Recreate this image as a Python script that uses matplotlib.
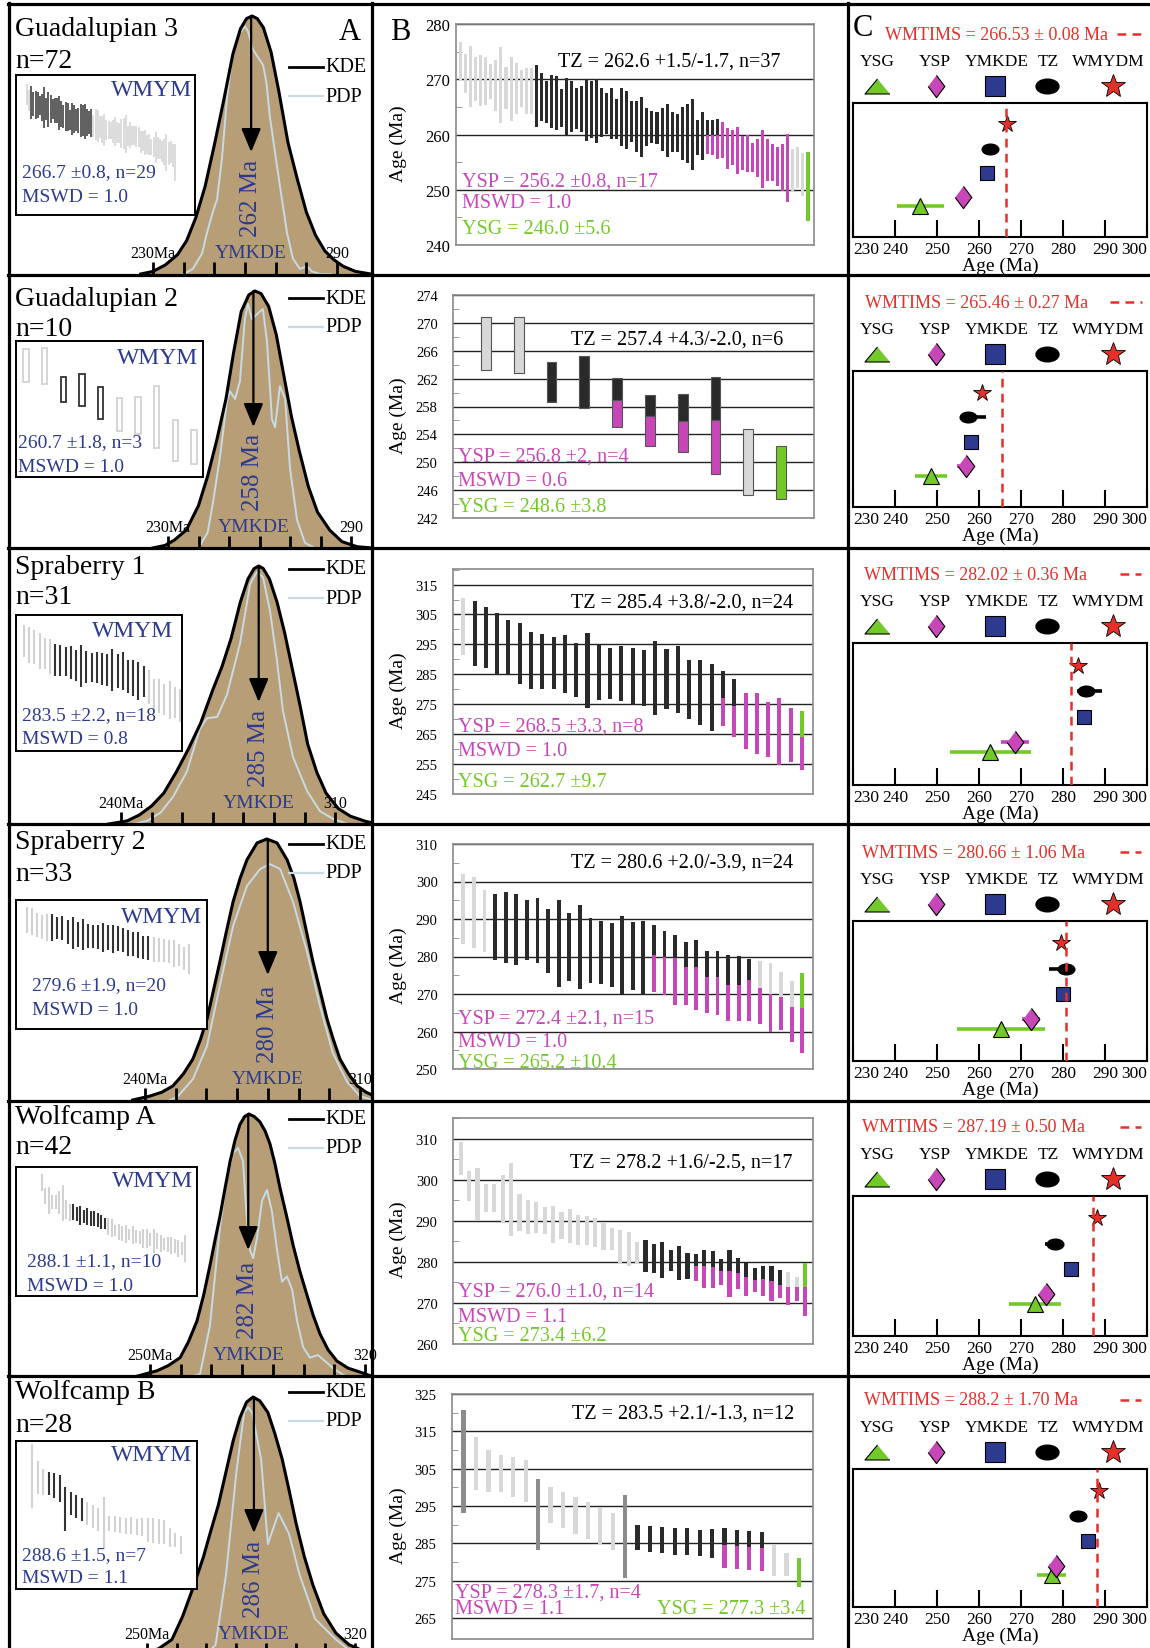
import matplotlib.pyplot as plt
import numpy as np
from matplotlib.lines import Line2D
from matplotlib.path import Path
from matplotlib.transforms import Affine2D

plt.rcParams['font.family'] = ['Liberation Serif', 'DejaVu Serif']

W, H = 1150, 1649

TAN = '#b79e76'
PDPC = '#c8dbe4'
NAVY = '#2d3a8e'
MAG = '#c847b8'
GRN = '#74c92a'
RED = '#e5302a'
LG = '#d8d8d8'
DG = '#8c8c8c'
BK = '#2a2a2a'

# ---------------- sample summary values ----------------
names = ['Guadalupian 3', 'Guadalupian 2', 'Spraberry 1', 'Spraberry 2', 'Wolfcamp A', 'Wolfcamp B']
counts = [72, 10, 31, 33, 42, 28]
ymkde = [262, 258, 285, 280, 282, 286]
wmym = [266.7, 260.7, 283.5, 279.6, 288.1, 288.6]
wmym_err = [0.8, 1.8, 2.2, 1.9, 1.1, 1.5]
wmym_n = [29, 3, 18, 20, 10, 7]
wmym_mswd = [1.0, 1.0, 0.8, 1.0, 1.0, 1.1]
tz = [262.6, 257.4, 285.4, 280.6, 278.2, 283.5]
tz_plus = [1.5, 4.3, 3.8, 2.0, 1.6, 2.1]
tz_minus = [1.7, 2.0, 2.0, 3.9, 2.5, 1.3]
tz_n = [37, 6, 24, 24, 17, 12]
ysp = [256.2, 256.8, 268.5, 272.4, 276.0, 278.3]
ysp_err = [0.8, 2, 3.3, 2.1, 1.0, 1.7]
ysp_n = [17, 4, 8, 15, 14, 4]
ysp_mswd = [1.0, 0.6, 1.0, 1.0, 1.1, 1.1]
ysg = [246.0, 248.6, 262.7, 265.2, 273.4, 277.3]
ysg_err = [5.6, 3.8, 9.7, 10.4, 6.2, 3.4]
wmtims = [266.53, 265.46, 282.02, 280.66, 287.19, 288.2]
wmtims_err = [0.08, 0.27, 0.36, 1.06, 0.50, 1.70]

# ---------------- A: KDE and PDP curves (age Ma, relative height) ----------------
kde_age_1 = [226, 230, 234, 238, 241, 244, 247, 250, 253, 256, 258.5, 260.5, 262.3, 264, 266, 268.5,
             271, 274, 277, 280, 283, 286, 289, 292, 296, 301]
kde_den_1 = [0, 0.01, 0.035, 0.075, 0.13, 0.22, 0.34, 0.50, 0.67, 0.85, 0.95, 0.99, 1.0, 0.99, 0.955,
             0.86, 0.71, 0.51, 0.37, 0.24, 0.15, 0.09, 0.055, 0.03, 0.01, 0]
pdp_age_1 = [240, 243, 246, 247.6, 249.5, 250.9, 252.5, 254.1, 256.1, 258, 260, 261, 262.6, 264.2,
             265.9, 267, 268.1, 269.8, 271.4, 273.7, 275.6, 277.9, 280.2, 281.8, 284.5, 288]
pdp_den_1 = [0, 0.02, 0.08, 0.16, 0.24, 0.29, 0.45, 0.68, 0.87, 0.93, 0.96, 0.94, 0.87, 0.84, 0.81,
             0.74, 0.61, 0.47, 0.34, 0.16, 0.06, 0.02, 0.03, 0.01, 0, 0]

kde_age_2 = [225, 229, 232, 236, 240, 243, 246, 249, 251.5, 254, 256.5, 258.5, 260.5, 263, 265.5,
             268, 270.5, 273, 276, 279, 283, 287, 292, 297]
kde_den_2 = [0, 0.01, 0.03, 0.07, 0.165, 0.28, 0.42, 0.58, 0.76, 0.92, 0.985, 1.0, 0.99, 0.94, 0.83,
             0.67, 0.51, 0.38, 0.24, 0.14, 0.07, 0.025, 0.005, 0]
pdp_age_2 = [240, 243, 244.8, 247.1, 249.3, 250.3, 252, 253.6, 255.2, 256.2, 257.5, 259.2, 261.1,
             262.4, 264.1, 265.1, 266.7, 268.4, 270, 272.3, 274.9, 278.2]
pdp_den_2 = [0, 0.06, 0.18, 0.36, 0.57, 0.61, 0.58, 0.65, 0.89, 0.95, 0.89, 0.91, 0.93, 0.81, 0.5,
             0.47, 0.63, 0.58, 0.31, 0.11, 0.02, 0]

kde_age_3 = [236, 242, 246, 250, 254, 258, 262, 266, 270, 273, 276, 279, 281.5, 283.5, 285, 286.5,
             288.5, 291, 293.5, 296, 298.5, 301, 304, 307, 311, 315, 320, 324]
kde_den_3 = [0, 0.012, 0.035, 0.07, 0.12, 0.2, 0.29, 0.39, 0.52, 0.61, 0.72, 0.86, 0.95, 0.99, 1.0,
             0.99, 0.95, 0.86, 0.74, 0.60, 0.46, 0.31, 0.2, 0.12, 0.06, 0.03, 0.01, 0]
pdp_age_3 = [244, 248.5, 253, 257, 261.6, 264, 265.8, 268.1, 271.4, 274.6, 278.9, 282.2, 284.4,
             286.4, 288.7, 291, 292.9, 296.2, 300.8, 305, 309.3, 314]
pdp_den_3 = [0, 0.012, 0.045, 0.105, 0.205, 0.3, 0.37, 0.41, 0.415, 0.5, 0.7, 0.93, 0.977, 0.957,
             0.826, 0.63, 0.44, 0.26, 0.128, 0.05, 0.02, 0]

kde_age_4 = [236, 241.6, 245.5, 249.1, 252.5, 255.6, 258, 260.2, 262.3, 264.4, 266.5, 268.7, 271,
             273.2, 276.5, 279.7, 283, 286.3, 288.5, 290.5, 292.6, 294.7, 297, 299.3, 301.4, 303.5,
             306.3, 309.1, 312, 315.6, 320]
kde_den_4 = [0, 0.015, 0.03, 0.054, 0.1, 0.157, 0.23, 0.31, 0.42, 0.53, 0.645, 0.76, 0.85, 0.92,
             0.985, 1.0, 0.985, 0.92, 0.85, 0.76, 0.645, 0.53, 0.42, 0.31, 0.23, 0.157, 0.1, 0.054,
             0.03, 0.01, 0]
pdp_age_4 = [248, 250.4, 255.6, 260.2, 264.4, 268.7, 273.2, 277.5, 280.7, 284, 288.2, 292.8, 297,
             301.2, 305.8, 310, 314]
pdp_den_4 = [0, 0.01, 0.08, 0.207, 0.44, 0.667, 0.82, 0.885, 0.904, 0.885, 0.76, 0.567, 0.36,
             0.18, 0.07, 0.015, 0]

kde_age_5 = [246, 252.3, 256, 259.8, 262.5, 265.3, 267.5, 269.5, 271.2, 272.8, 274.5, 276.1, 277.7,
             279.3, 280.8, 282.2, 284, 285.8, 287.5, 289.1, 290.7, 292.3, 294.5, 296.6, 298.8,
             301.1, 303.2, 305.4, 308, 310.9, 314.5, 318.4, 322]
kde_den_5 = [0, 0.02, 0.04, 0.07, 0.13, 0.21, 0.31, 0.42, 0.52, 0.61, 0.72, 0.82, 0.9, 0.96, 0.99,
             1.0, 0.99, 0.97, 0.935, 0.885, 0.81, 0.72, 0.61, 0.50, 0.40, 0.31, 0.23, 0.16, 0.1,
             0.057, 0.03, 0.015, 0]
pdp_age_5 = [264, 266.3, 269.5, 272.8, 275.1, 277, 278.7, 280.3, 281.6, 282.6, 283.6, 284.9, 286.5,
             288.1, 289.7, 291.4, 293, 294.6, 296.3, 297.9, 299.9, 302.1, 304.7, 307, 309.6, 313.5]
pdp_den_5 = [0, 0.008, 0.19, 0.57, 0.76, 0.85, 0.87, 0.82, 0.59, 0.48, 0.45, 0.53, 0.67, 0.71,
             0.63, 0.48, 0.36, 0.38, 0.33, 0.21, 0.11, 0.07, 0.08, 0.057, 0.03, 0]

kde_age_6 = [248, 254, 258.4, 262, 265.8, 269, 271.2, 274, 276.6, 279, 281.3, 283.5, 285.7, 288,
             290.7, 293, 295.5, 298, 300.2, 303, 305.9, 309.5, 313.6, 318, 324]
kde_den_6 = [0, 0.025, 0.06, 0.15, 0.27, 0.38, 0.47, 0.58, 0.71, 0.83, 0.92, 0.98, 1.0, 0.985,
             0.94, 0.86, 0.76, 0.63, 0.51, 0.38, 0.27, 0.16, 0.085, 0.04, 0.01]
pdp_age_6 = [270, 273.1, 276.6, 280.1, 282.7, 284, 285.4, 288.4, 290.7, 294.3, 297.8, 301.4, 306.6,
             313.6, 318]
pdp_den_6 = [0, 0.04, 0.31, 0.71, 0.94, 0.96, 0.94, 0.76, 0.43, 0.55, 0.47, 0.31, 0.14, 0.06, 0.02]

# ---------------- B: rank-ordered grain ages (upper / lower limits, Ma) ----------------
# g grey, d dark grey, k black (TZ), m magenta (YSP), y green (YSG);
# x, q, z: black / grey / green over a magenta lower part split at "cut"
hi_1 = [276.7, 274.6, 276.1, 274.0, 274.4, 274.0, 272.8, 273.5, 275.8, 272.2, 274.1, 272.9, 271.6,
        272.0, 272.0,
        272.6, 271.1, 269.7, 270.8, 270.5, 268.2, 270.3, 269.6, 268.5, 268.8, 270.0, 269.7, 270.0,
        268.4, 267.6, 268.4, 266.4, 268.4, 267.9, 266.0, 266.0, 266.7, 264.8, 264.3, 264.0, 264.8,
        265.6, 264.1, 263.7, 264.9, 265.5, 266.4, 262.7, 264.1,
        262.7, 262.6, 262.8,
        262.3, 261.1, 260.9, 261.4, 259.8, 259.9, 258.5, 259.2, 260.8, 259.2, 258.3, 257.7, 258.3,
        260.1,
        257.4, 257.7, 256.7, 256.8]
lo_1 = [269.7, 267.6, 264.9, 266.1, 265.1, 265.3, 266.4, 264.3, 262.1, 264.7, 262.5, 263.7, 264.9,
        263.7, 263.7,
        261.3, 262.5, 262.1, 261.1, 260.9, 261.3, 259.7, 260.5, 261.0, 260.5, 258.9, 259.3, 258.5,
        259.5, 260.1, 259.2, 259.1, 258.0, 257.4, 258.6, 256.9, 256.0, 258.0, 258.5, 258.3, 257.1,
        255.9, 256.9, 256.9, 255.4, 254.9, 253.6, 256.2, 255.3,
        256.5, 256.3, 255.6,
        255.7, 253.8, 254.4, 252.9, 253.5, 253.2, 253.2, 252.3, 250.4, 251.6, 251.6, 250.7, 249.7,
        247.7,
        249.8, 250.4, 248.9, 244.4]
cls_1 = 'g' * 15 + 'k' * 34 + 'x' * 3 + 'm' * 14 + 'g' * 3 + 'y'
cut_1 = [260.0, 260.0, 260.0]

hi_2 = [270.8, 270.9, 264.4, 265.2, 262.1, 259.7, 259.8, 262.3, 254.7, 252.4]
lo_2 = [263.3, 262.8, 258.7, 257.8, 255.0, 252.3, 251.5, 248.3, 245.3, 244.7]
cls_2 = 'ggkkxxxxgy'
cut_2 = [258.9, 256.6, 255.9, 256.1]

hi_3 = [310.6, 309.4, 307.4, 305.6, 303.0, 302.1, 299.1, 298.6, 297.4, 298.0, 295.6, 298.8, 295.2,
        293.9, 294.4, 293.9, 293.2, 296.1, 293.6, 294.4, 289.7, 289.9, 288.6, 286.1, 283.6, 278.6,
        278.6, 275.8, 277.2, 273.9, 272.7]
lo_3 = [291.3, 287.8, 287.2, 284.7, 284.7, 281.6, 280.2, 280.2, 280.0, 278.6, 277.4, 273.8, 276.3,
        276.9, 276.0, 274.7, 274.4, 271.3, 273.3, 272.1, 269.9, 268.2, 266.0, 267.7, 263.9, 260.0,
        258.3, 257.4, 254.7, 255.6, 253.0]
cls_3 = 'g' + 'k' * 22 + 'xx' + 'm' * 5 + 'z'
cut_3 = [277.2, 274.4, 263.9]

hi_4 = [302.0, 301.1, 297.7, 296.7, 297.1, 296.8, 295.2, 295.5, 292.8, 295.1, 291.6, 293.7, 290.3,
        289.6, 289.0, 290.9, 289.3, 289.5, 288.4, 286.9, 285.7, 284.0, 284.5, 281.4, 281.4, 280.5,
        280.2, 279.3, 278.9, 278.4, 276.0, 273.6, 275.6]
lo_4 = [283.3, 282.4, 281.1, 279.2, 278.2, 277.8, 279.2, 278.3, 275.6, 272.0, 273.6, 271.3, 272.9,
        272.8, 272.0, 270.0, 271.2, 269.7, 270.6, 269.8, 267.2, 267.2, 265.8, 264.9, 264.5, 262.9,
        262.9, 262.9, 262.0, 259.8, 260.5, 257.3, 254.4]
cls_4 = 'ggg' + 'k' * 15 + 'x' * 10 + 'qqqq' + 'z'
cut_4 = [280.4, 280.0, 279.5, 277.3, 277.3, 274.6, 274.6, 272.5, 272.5, 273.8, 271.6, 270.0, 269.3,
         266.6, 266.3]

hi_5 = [309.2, 302.3, 302.9, 298.9, 298.9, 301.1, 304.1, 296.6, 295.0, 294.6, 293.5, 293.7, 292.1,
        292.9, 291.5, 291.3, 290.7, 289.7, 288.2, 287.9, 287.4, 284.8, 285.4, 284.4, 284.8, 282.8,
        284.0, 282.1, 282.0, 283.0, 282.6, 280.7, 282.9, 281.0, 279.8, 278.6, 279.0, 279.1, 278.0,
        277.6, 276.4, 279.7]
lo_5 = [301.1, 294.8, 290.2, 292.3, 292.3, 289.8, 286.4, 287.6, 286.7, 287.1, 286.8, 284.6, 285.6,
        284.6, 284.2, 284.2, 283.7, 282.9, 282.8, 279.8, 278.9, 279.5, 277.6, 277.2, 276.0, 277.7,
        275.6, 275.9, 275.4, 273.6, 273.7, 274.5, 271.4, 273.4, 271.6, 272.6, 271.8, 270.6, 271.2,
        269.5, 270.4, 266.9]
cls_5 = 'g' * 22 + 'k' * 6 + 'x' * 11 + 'qq' + 'z'
cut_5 = [278.9, 278.9, 278.7, 277.9, 277.7, 277.3, 276.4, 275.7, 275.9, 275.4, 274.5, 274.0, 273.8,
         274.0]

hi_6 = [320.8, 313.5, 310.1, 308.7, 308.1, 307.3, 302.2, 300.2, 298.8, 297.4, 296.0, 294.6, 293.2,
        298.0, 289.8, 289.6, 289.4, 289.0, 289.2, 288.6, 288.8, 289.0, 288.7, 288.3, 288.0, 284.7,
        282.5, 281.1]
lo_6 = [293.2, 299.4, 298.8, 298.8, 297.4, 296.0, 283.3, 290.4, 289.0, 287.5, 286.1, 284.7, 283.3,
        275.6, 283.1, 282.8, 282.5, 282.0, 281.8, 281.5, 281.2, 278.5, 278.2, 277.8, 277.5, 276.3,
        276.3, 273.4]
cls_6 = 'd' + 'g' * 5 + 'd' + 'g' * 6 + 'd' + 'k' * 7 + 'x' * 4 + 'gg' + 'y'
cut_6 = [284.5, 284.3, 284.0, 283.8]

# WMYM grains highlighted in the inset (first, last index)
wm_idx = [(2, 30), (2, 4), (6, 23), (5, 24), (9, 18), (3, 9)]

kde_age = [kde_age_1, kde_age_2, kde_age_3, kde_age_4, kde_age_5, kde_age_6]
kde_den = [kde_den_1, kde_den_2, kde_den_3, kde_den_4, kde_den_5, kde_den_6]
pdp_age = [pdp_age_1, pdp_age_2, pdp_age_3, pdp_age_4, pdp_age_5, pdp_age_6]
pdp_den = [pdp_den_1, pdp_den_2, pdp_den_3, pdp_den_4, pdp_den_5, pdp_den_6]
b_hi = [hi_1, hi_2, hi_3, hi_4, hi_5, hi_6]
b_lo = [lo_1, lo_2, lo_3, lo_4, lo_5, lo_6]
b_cls = [cls_1, cls_2, cls_3, cls_4, cls_5, cls_6]
b_cut = [cut_1, cut_2, cut_3, cut_4, cut_5, cut_6]

# ---------------- layout (pixels) ----------------
row_top = [5, 277, 550, 825, 1102, 1377]
a_base = [275, 549, 825, 1101, 1377, 1656]
a_peak = [258, 257, 258, 261, 262, 258]
a_tick0 = [230, 230, 240, 240, 250, 250]
a_tick_px = [153, 168, 121, 145, 150, 147]
a_ppm = [3.067, 3.05, 3.06, 3.07, 3.07, 2.97]
a_nticks = [7, 7, 8, 8, 8, 8]
title_dy = [25, 23, 18, 18, 16, 16]
n_dy = [57, 53, 48, 50, 46, 49]
leg_y = [68, 299, 570, 845, 1120, 1393]

ins_box = [(16, 76, 195, 216), (16, 342, 203, 478), (16, 616, 182, 752),
           (16, 901, 207, 1030), (16, 1168, 197, 1297), (16, 1442, 197, 1590)]
ins_bars = [(27, 175), (26, 194), (24, 180), (27, 189), (42, 185), (32, 181)]
ins_top = [279.7, 272.6, 316.5, 307.0, 312.6, 322.1]
ins_ppm = [3.0, 4.41, 1.684, 1.41, 2.08, 2.32]
ins_wm = [(192, 90), (198, 358), (173, 632), (202, 918), (193, 1182), (192, 1456)]
ins_txt = [(22, 173, 198), (18, 443, 468), (22, 716, 740), (32, 986, 1011), (27, 1262, 1287),
           (22, 1556, 1579)]

b_box = [(456, 25, 814, 246), (453, 296, 814, 519), (453, 570, 813, 795),
         (453, 845, 813, 1070), (453, 1119, 813, 1345), (452, 1395, 813, 1640)]
b_bars = [(460.7, 808), (486, 781), (463.3, 802), (463.3, 802.3), (460.7, 805), (463.6, 799)]
b_ylim = [(240, 280), (242, 274), (245, 320.2), (250, 310), (260, 315.1), (259.4, 325)]
b_major = [range(240, 281, 10), range(242, 275, 4), range(245, 316, 10), range(250, 311, 10),
           range(260, 311, 10), range(265, 326, 10)]
b_minor = [range(245, 280, 10), range(244, 274, 4), range(250, 321, 10), range(255, 310, 10),
           range(265, 316, 10), range(270, 325, 10)]
b_width = [0.6, 0.3, 0.36, 0.36, 0.5, 0.34]
tz_pos = [(780, 62), (783, 340), (793, 603), (793, 863), (793, 1163), (794, 1414)]
ysp_pos = [(462, 182, 204, 229), (458, 457, 481, 507), (458, 727, 752, 783),
           (458, 1019, 1043, 1063), (458, 1292, 1317, 1337), (455, 1593, 1610, 1610)]

c_box = [(104, 238), (372, 508), (644, 786), (922, 1062), (1197, 1337), (1470, 1608)]
c_hdr_x = [885, 865, 864, 862, 862, 864]
c_dash = [(1117, 1145), (1110, 1142), (1120, 1141), (1120, 1141), (1120, 1141), (1120, 1141)]
c_row_y = [0.84, 0.66, 0.48, 0.30, 0.23]   # WMYDM, TZ, YMKDE, YSP, YSG

fig = plt.figure(figsize=(W / 100, H / 100), dpi=100)


def box(x0, y0, x1, y1):
    return [x0 / W, 1 - y1 / H, (x1 - x0) / W, (y1 - y0) / H]


def put(x, y, s, **kw):
    kw.setdefault('va', 'center')
    return fig.text(x / W, 1 - y / H, s, **kw)


def rule(xs, ys, **kw):
    fig.add_artist(Line2D([x / W for x in xs], [1 - y / H for y in ys],
                          transform=fig.transFigure, **kw))


def mark(x, y, **kw):
    fig.add_artist(Line2D([x / W], [1 - y / H], transform=fig.transFigure, ls='none', **kw))


TRI_WIDE = [(0, 0.6), (-1, -0.6), (1, -0.6)]
DIAMOND = [(0, 1), (0.75, 0), (0, -1), (-0.75, 0)]
ELLIPSE = Path.unit_circle().transformed(Affine2D().scale(1, 0.64))
COLMAP = {'g': LG, 'd': DG, 'k': BK, 'm': MAG, 'y': GRN}
TOPMAP = {'x': BK, 'q': LG, 'z': GRN}


def draw_kde(r):
    top, base, ph = row_top[r], a_base[r], a_peak[r]
    ax = fig.add_axes(box(10, top, 371, base))
    a0, t0, ppm = a_tick0[r], a_tick_px[r], a_ppm[r]
    ax.set_xlim(a0 - (t0 - 10) / ppm, a0 + (371 - t0) / ppm)
    ax.set_ylim(0, (base - top) / ph)
    ax.axis('off')
    ax.fill_between(kde_age[r], kde_den[r], color=TAN, lw=0)
    ax.plot(pdp_age[r], pdp_den[r], color=PDPC, lw=1.4)
    ax.plot(kde_age[r], kde_den[r], color='k', lw=2.2)
    ticks = list(range(a0, a0 + 10 * a_nticks[r], 10))
    ax.vlines(ticks, 0, 12 / ph, color='k', lw=2)
    ax.text(ticks[0], 21 / ph, f'{a0}Ma', ha='center', va='center', fontsize=11.5)
    ax.text(ticks[-1], 21 / ph, str(ticks[-1]), ha='center', va='center', fontsize=11.5)
    m = ymkde[r]
    ax.text(m, 21 / ph, 'YMKDE', ha='center', va='center', fontsize=14, color=NAVY)
    ax.text(m, 77 / ph, f'{m} Ma', ha='center', va='center', rotation=90, fontsize=18, color=NAVY)
    ax.annotate('', xy=(m, 1 - 136 / ph), xytext=(m, 1.0),
                arrowprops=dict(arrowstyle='-|>,head_length=0.72,head_width=0.3', color='k',
                                lw=1.6, mutation_scale=20, shrinkA=0, shrinkB=0))
    put(15, top + title_dy[r], names[r], fontsize=20)
    put(15, top + n_dy[r], f'n={counts[r]}', fontsize=20)
    ly = leg_y[r]
    rule([289, 323], [ly, ly], color='k', lw=2)
    rule([289, 323], [ly + 29, ly + 29], color=PDPC, lw=1.6)
    put(325, ly, 'KDE', fontsize=14.5)
    put(325, ly + 29, 'PDP', fontsize=14.5)


def draw_inset(r):
    x0, y0, x1, y1 = ins_box[r]
    ax = fig.add_axes(box(x0, y0, x1, y1), zorder=1)
    ax.set_facecolor('white')
    hi, lo = np.array(b_hi[r]), np.array(b_lo[r])
    n = len(hi)
    bx0, bx1 = ins_bars[r]
    sp = (bx1 - bx0) / (n - 1)
    ax.set_xlim(-(bx0 - x0) / sp, (n - 1) + (x1 - bx1) / sp)
    ax.set_ylim(ins_top[r] - (y1 - y0) / ins_ppm[r], ins_top[r])
    k0, k1 = wm_idx[r]
    cols = ['#333333' if k0 <= i <= k1 else '#d2d2d2' for i in range(n)]
    if n <= 12:
        ax.bar(range(n), hi - lo, bottom=lo, width=0.27, fill=False, edgecolor=cols, lw=1.3)
    else:
        ax.vlines(range(n), lo, hi, colors=cols, lw=1.1 if n > 60 else 1.5)
    ax.set_xticks([])
    ax.set_yticks([])
    for s in ax.spines.values():
        s.set_linewidth(1.4)
    wx, wy = ins_wm[r]
    put(wx, wy, 'WMYM', ha='right', fontsize=17, color=NAVY, zorder=5)
    tx, ty1, ty2 = ins_txt[r]
    put(tx, ty1, f'{wmym[r]} \u00b1{wmym_err[r]}, n={wmym_n[r]}', fontsize=14, color=NAVY, zorder=5)
    put(tx, ty2, f'MSWD = {wmym_mswd[r]}', fontsize=14, color=NAVY, zorder=5)


def draw_rank(r):
    x0, y0, x1, y1 = b_box[r]
    ax = fig.add_axes(box(x0, y0, x1, y1))
    hi, lo, cls = b_hi[r], b_lo[r], b_cls[r]
    n = len(hi)
    bx0, bx1 = b_bars[r]
    sp = (bx1 - bx0) / (n - 1)
    ax.set_xlim(-(bx0 - x0) / sp, (n - 1) + (x1 - bx1) / sp)
    ax.set_ylim(*b_ylim[r])
    w = b_width[r]
    edge = dict(edgecolor='#555555', lw=0.8) if r == 1 else dict(lw=0)
    cuts = iter(b_cut[r])
    for i, c in enumerate(cls):
        if c in TOPMAP:
            s = next(cuts)
            ax.bar(i, hi[i] - s, bottom=s, width=w, color=TOPMAP[c], **edge)
            ax.bar(i, s - lo[i], bottom=lo[i], width=w, color=MAG, **edge)
        else:
            ax.bar(i, hi[i] - lo[i], bottom=lo[i], width=w, color=COLMAP[c], **edge)
    ax.set_axisbelow(True)
    ax.set_yticks(list(b_major[r]))
    ax.set_yticks(list(b_minor[r]), minor=True)
    ax.set_xticks([])
    ax.grid(axis='y', which='major', color='#222222', lw=1.0)
    ax.tick_params(axis='y', which='major', length=0, pad=4 if r == 0 else 11,
                   labelsize=12 if r == 0 else 10.5)
    ax.tick_params(axis='y', which='minor', direction='in', length=4, color='#888888')
    for s in ax.spines.values():
        s.set_color('#8a8a8a')
        s.set_linewidth(1.2)
    put(398, (y0 + y1) / 2 + 8, 'Age (Ma)', rotation=90, ha='center', fontsize=14)
    tx, ty = tz_pos[r]
    put(tx, ty, f'TZ = {tz[r]} +{tz_plus[r]}/-{tz_minus[r]}, n={tz_n[r]}', ha='right', fontsize=14.5)
    px, py1, py2, py3 = ysp_pos[r]
    put(px, py1, f'YSP = {ysp[r]} \u00b1{ysp_err[r]}, n={ysp_n[r]}', fontsize=14.5, color=MAG)
    put(px, py2, f'MSWD = {ysp_mswd[r]}', fontsize=14.5, color=MAG)
    gx = 657 if r == 5 else px
    put(gx, py3, f'YSG = {ysg[r]} \u00b1{ysg_err[r]}', fontsize=14.5, color=GRN)


def draw_summary(r):
    t, b = c_box[r]
    ax = fig.add_axes(box(853, t, 1147, b))
    ax.set_xlim(230, 300)
    ax.set_ylim(0, 1)
    ax.set_xticks(range(230, 301, 10))
    ax.set_yticks([])
    ax.tick_params(axis='x', direction='in', length=12, width=1.5, labelsize=12.5, pad=3)
    labs = ax.get_xticklabels()
    labs[0].set_ha('left')
    labs[-1].set_ha('right')
    for s in ax.spines.values():
        s.set_linewidth(1.5)
    ax.set_xlabel('Age (Ma)', fontsize=14, labelpad=0)
    yw, yt, yk, yp, yg = c_row_y
    ax.hlines(yg, ysg[r] - ysg_err[r], ysg[r] + ysg_err[r], color=GRN, lw=2.6)
    ax.hlines(yp, ysp[r] - ysp_err[r], ysp[r] + ysp_err[r], color=MAG, lw=2.6)
    ax.hlines(yt, tz[r] - tz_minus[r], tz[r] + tz_plus[r], color='k', lw=2.6)
    ax.plot(ysg[r], yg, marker='^', ms=12, mfc=GRN, mec='k', mew=0.8, ls='none')
    ax.plot(ysp[r], yp, marker=DIAMOND, ms=16, mfc=MAG, mec='k', mew=0.8, ls='none')
    ax.plot(ymkde[r], yk, marker='s', ms=10, mfc=NAVY, mec='k', mew=0.8, ls='none')
    ax.plot(tz[r], yt, marker=ELLIPSE, ms=12, mfc='k', mec='k', ls='none')
    ax.plot(wmym[r], yw, marker='*', ms=13, mfc=RED, mec='k', mew=0.6, ls='none')
    ax.axvline(wmtims[r], color=RED, lw=1.8, dashes=(3.5, 2.5), zorder=6)
    hx = c_hdr_x[r]
    put(hx, t - 69, f'WMTIMS = {wmtims[r]} \u00b1 {wmtims_err[r]:.2f} Ma', fontsize=13, color=RED)
    d0, d1 = c_dash[r]
    rule([d0, d1], [t - 69, t - 69], color=RED, lw=1.8, dashes=(3.5, 2.5))
    for lx, s in zip([877, 935, 997, 1048, 1108], ['YSG', 'YSP', 'YMKDE', 'TZ', 'WMYDM']):
        put(lx, t - 42, s, ha='center', fontsize=12.5)
    my = t - 17
    mark(877, my, marker=TRI_WIDE, ms=18, mfc=GRN, mec='k', mew=0.8)
    mark(936, my, marker=DIAMOND, ms=16, mfc=MAG, mec='k', mew=0.8)
    mark(995, my, marker='s', ms=14, mfc=NAVY, mec='k', mew=0.8)
    mark(1047, my, marker=ELLIPSE, ms=16.5, mfc='k', mec='k')
    mark(1113, my, marker='*', ms=18, mfc=RED, mec='k', mew=0.6)


for r in range(6):
    draw_kde(r)
    draw_inset(r)
    draw_rank(r)
    draw_summary(r)

put(350, 33, 'A', ha='center', fontsize=22)
put(400, 32, 'B', ha='center', fontsize=22)
put(853, 28, 'C', fontsize=22)

# panel frame
for y in [5, 276, 549, 825, 1102, 1377]:
    rule([8, 1150], [y, y], color='k', lw=2.3)
for x in [9, 372, 848]:
    rule([x, x], [4, 1649], color='k', lw=2.3)

fig.savefig('out.png', dpi=100)
